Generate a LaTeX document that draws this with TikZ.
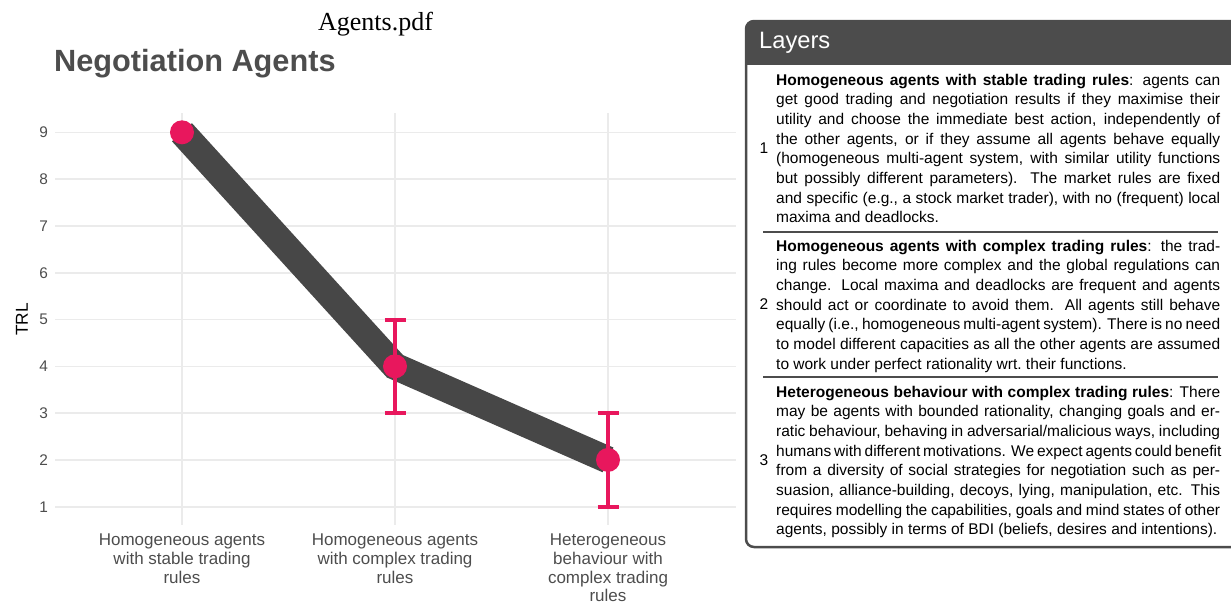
\documentclass[tikz,border=0pt]{standalone}
\usepackage{fontspec}
\setmainfont{Liberation Sans}
\newfontfamily\serifname{Liberation Serif}
\usetikzlibrary{positioning}

\definecolor{band}{RGB}{71,71,71}
\definecolor{dotpink}{RGB}{232,23,93}
\definecolor{gridgray}{RGB}{235,235,235}
\definecolor{axisgray}{RGB}{77,77,77}
\definecolor{boxframe}{RGB}{76,76,76}

\tikzset{
  gridline/.style ={gridgray, line width=1.6pt},
  trend/.style    ={band, line width=27pt, line join=miter},
  errbar/.style   ={dotpink, line width=4pt},
  dot/.style      ={circle, fill=dotpink, inner sep=0pt, minimum size=24pt},
  ylab/.style     ={text=axisgray, font=\fontsize{15.4}{18}\selectfont, inner sep=0pt, anchor=east},
  xlab/.style     ={text=axisgray, font=\fontsize{17}{18.7}\selectfont, inner sep=0pt, anchor=north, align=center},
  para/.style     ={font=\fontsize{15.5}{19.7}\selectfont, inner sep=0pt, anchor=base west},
  layerno/.style  ={font=\fontsize{15.5}{19.7}\selectfont, inner sep=0pt},
}
\newcommand\jline[1]{\hbox to 444pt{#1}}

\begin{document}
\begin{tikzpicture}[x=1pt, y=-1pt]
  \useasboundingbox (0,0) rectangle (1231,603);

  % ---------- Left: TRL plot ----------
  \node[font=\serifname\fontsize{26}{30}\selectfont, inner sep=0pt, anchor=base] (pdfname) at (375.5,30) {Agents.pdf};
  \node[font=\bfseries\fontsize{30.7}{36}\selectfont, text=axisgray, inner sep=0pt, anchor=base west] (title) at (54,71) {Negotiation Agents};

  \begin{scope}[shift={(-31,553.5)}, x=213pt, y=46.8pt]
    % grid
    \foreach \v in {1,...,9}
      \draw[gridline] (0.404,\v) -- (3.601,\v);
    \foreach \c in {1,2,3}
      \draw[gridline] (\c,0.61) -- (\c,9.41);

    % means and error bars
    \coordinate (p1) at (1,9);
    \coordinate (p2) at (2,4);
    \coordinate (p3) at (3,2);
    \coordinate (e2lo) at (2,3);
    \coordinate (e2hi) at (2,5);
    \coordinate (e3lo) at (3,1);
    \coordinate (e3hi) at (3,3);

    \draw[trend] (p1) -- (p2) -- (p3);
    \draw[errbar] (e2lo) -- (e2hi);
    \draw[errbar] (e3lo) -- (e3hi);
    \foreach \e in {e2lo,e2hi,e3lo,e3hi}
      \draw[errbar] ([xshift=-10.5pt]\e) -- ([xshift=10.5pt]\e);
    \node[dot] (d1) at (p1) {};
    \node[dot] (d2) at (p2) {};
    \node[dot] (d3) at (p3) {};

    % axes
    \foreach \v in {1,...,9}
      \node[ylab] (y\v) at (0.371,\v) {\v};
    \node[rotate=90, font=\fontsize{17.3}{20}\selectfont, inner sep=0pt] (trl) at (0.249,5) {TRL};
    \node[xlab] (x1) at (1,0.417) {Homogeneous agents\\with stable trading\\rules};
    \node[xlab] (x2) at (2,0.417) {Homogeneous agents\\with complex trading\\rules};
    \node[xlab] (x3) at (3,0.417) {Heterogeneous\\behaviour with\\complex trading\\rules};
  \end{scope}

  % ---------- Right: Layers box ----------
  \fill[boxframe, rounded corners=8pt] (746,21) rectangle (1250,75);
  \fill[white] (746,65) rectangle (1250,80);
  \draw[boxframe, line width=2.5pt, rounded corners=8pt] (746,21) rectangle (1250,547);
  \node[font=\fontsize{23.7}{28}\selectfont, text=white, inner sep=0pt, anchor=base west] (head) at (759,48.5) {Layers};

  \draw[boxframe, line width=1.2pt] (763,232) -- (1218,232);
  \draw[boxframe, line width=1.2pt] (763,377) -- (1218,377);

  \node[layerno] (n1) at (764,148) {1};
  \node[layerno] (n2) at (764,304) {2};
  \node[layerno] (n3) at (764,460) {3};

  \node[para] (l1) at (776,85) {\parbox[t]{444pt}{%
    \jline{\textbf{Homogeneous agents with stable trading rules}: agents can}
    \jline{get good trading and negotiation results if they maximise their}
    \jline{utility and choose the immediate best action, independently of}
    \jline{the other agents, or if they assume all agents behave equally}
    \jline{(homogeneous multi-agent system, with similar utility functions}
    \jline{but possibly different parameters).  The market rules are fixed}
    \jline{and specific (e.g., a stock market trader), with no (frequent) local}
    \hbox{maxima and deadlocks.}}};
  \node[para] (l2) at (776,251) {\parbox[t]{444pt}{%
    \jline{\textbf{Homogeneous agents with complex trading rules}: the trad-}
    \jline{ing rules become more complex and the global regulations can}
    \jline{change. Local maxima and deadlocks are frequent and agents}
    \jline{should act or coordinate to avoid them. All agents still behave}
    \jline{equally (i.e., homogeneous multi-agent system). There is no need}
    \jline{to model different capacities as all the other agents are assumed}
    \hbox{to work under perfect rationality wrt.\ their functions.}}};
  \node[para] (l3) at (776,397) {\parbox[t]{444pt}{%
    \jline{\textbf{Heterogeneous behaviour with complex trading rules}: There}
    \jline{may be agents with bounded rationality, changing goals and er-}
    \jline{ratic behaviour, behaving in adversarial/malicious ways, including}
    \jline{humans with different motivations. We expect agents could benefit}
    \jline{from a diversity of social strategies for negotiation such as per-}
    \jline{suasion, alliance-building, decoys, lying, manipulation, etc. This}
    \jline{requires modelling the capabilities, goals and mind states of other}
    \hbox{agents, possibly in terms of BDI (beliefs, desires and intentions).}}};
\end{tikzpicture}
\end{document}
